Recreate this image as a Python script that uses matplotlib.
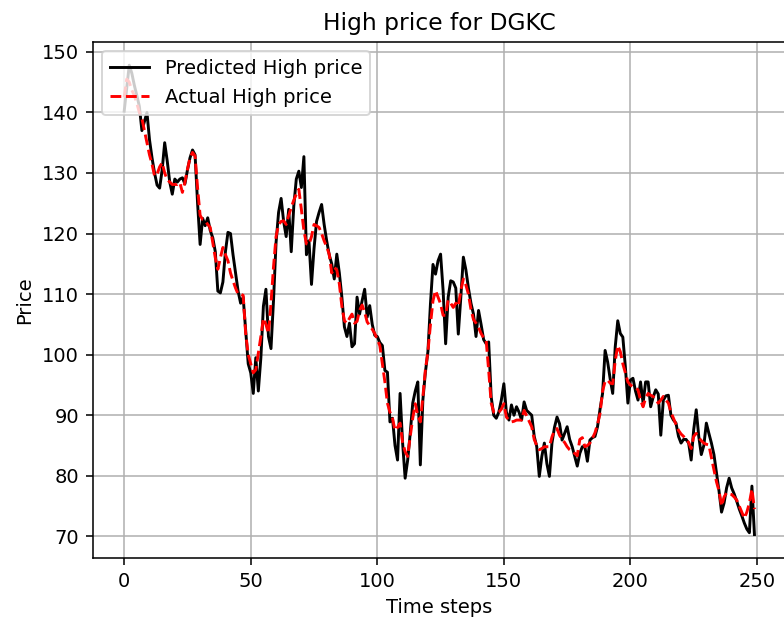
import numpy as np
import matplotlib
matplotlib.use('Agg')
import matplotlib.pyplot as plt

# values, one per time step (0..249)
predicted_high = [
    140.2, 144.0, 147.8, 146.5, 144.5, 142.8, 141.0, 137.0, 138.5, 140.0,
    135.5, 132.5, 130.0, 128.0, 127.5, 130.5, 135.0, 132.0, 128.5, 126.5,
    129.0, 128.5, 129.0, 129.2, 128.2, 130.5, 132.5, 133.8, 133.0, 125.0,
    118.2, 122.5, 121.3, 122.6, 120.5, 119.3, 117.0, 110.5, 110.2, 112.0,
    117.0, 120.2, 120.0, 116.5, 113.5, 110.5, 108.5, 109.5, 104.0, 98.5,
    97.0, 93.6, 99.5, 94.0, 99.5, 108.0, 110.8, 103.0, 101.0, 109.0,
    118.5, 123.5, 125.8, 122.0, 119.5, 124.0, 117.0, 124.5, 129.0, 130.3,
    127.6, 132.7, 116.5, 118.8, 111.6, 117.5, 122.0, 123.5, 124.8, 121.5,
    118.8, 116.5, 115.0, 112.5, 116.6, 113.5, 109.5, 104.6, 103.0, 105.2,
    101.3, 101.8, 109.5, 106.7, 108.9, 110.8, 106.2, 108.1, 105.0, 103.2,
    103.0, 102.0, 101.5, 97.4, 97.1, 88.9, 89.5, 85.0, 82.6, 93.6,
    85.4, 79.6, 82.6, 87.0, 92.0, 94.0, 95.5, 81.8, 92.5, 97.1,
    100.5, 108.4, 114.9, 113.3, 115.5, 116.6, 110.6, 101.8, 109.5, 112.2,
    112.0, 111.0, 103.4, 109.5, 116.1, 114.0, 111.0, 108.5, 106.7, 103.0,
    107.3, 105.0, 102.5, 101.8, 102.1, 93.0, 90.0, 89.5, 90.5, 92.5,
    95.2, 90.5, 89.2, 91.7, 90.0, 91.4, 90.5, 89.2, 92.2, 90.8,
    90.4, 90.0, 86.5, 84.8, 79.9, 83.2, 85.4, 82.0, 79.9, 85.4,
    88.0, 89.7, 88.6, 85.9, 87.0, 88.1, 86.0, 84.8, 83.2, 81.6,
    83.7, 84.8, 84.8, 82.4, 85.9, 86.3, 86.5, 88.1, 91.0, 93.6,
    100.7, 98.8, 96.0, 93.6, 101.3, 105.6, 103.5, 102.9, 98.0, 92.0,
    95.8, 96.1, 94.0, 92.5, 95.5, 92.0, 95.5, 95.5, 91.4, 93.0,
    94.2, 93.5, 86.7, 92.5, 93.2, 93.3, 90.0, 89.2, 88.7, 86.5,
    85.4, 86.0, 86.0, 85.4, 82.6, 87.6, 90.9, 86.5, 83.5, 85.0,
    88.7, 87.0, 85.4, 83.5, 80.5, 77.5, 74.0, 75.5, 78.0, 79.6,
    78.0, 77.0, 75.8, 74.5, 73.4, 72.2, 71.2, 70.6, 78.3, 70.3,
]

actual_high = [
    142.5, 145.5, 145.0, 143.7, 142.8, 141.5, 140.0, 139.0, 137.0, 135.0,
    133.0, 131.5, 129.5, 129.8, 131.0, 131.7, 130.0, 128.9, 128.5, 128.1,
    128.1, 128.1, 128.4, 126.8, 128.5, 130.6, 132.5, 133.4, 132.8, 127.5,
    123.0, 122.3, 122.1, 121.5, 121.0, 118.5, 116.0, 114.1, 116.0, 117.7,
    116.5, 115.5, 113.5, 112.2, 111.0, 110.0, 110.0, 109.8, 103.5, 100.0,
    98.5, 97.0, 97.5, 100.2, 103.0, 106.0, 105.0, 103.5, 108.5, 114.5,
    119.5, 121.5, 122.0, 122.1, 121.5, 123.0, 124.3, 125.5, 126.5, 127.3,
    124.0, 120.5, 118.3, 118.2, 119.5, 121.5, 121.3, 121.0, 120.0, 118.8,
    117.8, 116.6, 113.5, 114.4, 114.0, 111.7, 108.0, 105.6, 105.2, 106.0,
    106.7, 105.2, 105.5, 107.3, 108.2, 107.0, 105.4, 104.8, 104.2, 103.5,
    102.5, 101.5, 98.5, 95.5, 92.0, 90.5, 89.5, 87.5, 88.0, 88.7,
    85.5, 84.0, 83.2, 86.5, 89.5, 91.9, 90.0, 88.9, 93.0, 97.5,
    100.5, 105.0, 108.9, 110.6, 109.5, 108.4, 106.5, 106.5, 109.0, 108.5,
    107.8, 108.5, 108.0, 110.6, 112.5, 111.5, 110.0, 107.5, 105.8, 105.2,
    104.5, 103.5, 102.8, 102.4, 97.4, 92.0, 90.5, 90.3, 90.5, 91.0,
    91.9, 89.7, 89.2, 88.9, 89.0, 89.2, 89.2, 89.2, 90.8, 89.9,
    89.0, 88.1, 86.0, 85.0, 84.3, 84.5, 84.8, 84.8, 84.8, 86.4,
    87.5, 87.8, 86.7, 86.0, 85.5, 84.8, 84.3, 84.0, 83.7, 83.3,
    86.0, 86.3, 84.8, 85.0, 85.4, 86.2, 87.1, 88.5, 90.3, 94.0,
    95.6, 95.8, 95.3, 95.2, 99.0, 101.5, 100.5, 98.5, 97.0, 95.5,
    95.0, 94.7, 94.5, 94.2, 92.5, 91.4, 92.8, 93.6, 93.3, 93.1,
    92.5, 92.0, 92.5, 93.1, 92.5, 92.0, 90.5, 89.5, 88.5, 87.5,
    86.9, 86.5, 86.0, 85.5, 84.5, 86.5, 87.0, 86.3, 85.8, 85.4,
    85.2, 85.1, 83.0, 81.0, 79.0, 77.5, 75.0, 76.5, 77.2, 77.0,
    76.9, 76.5, 76.0, 75.0, 74.0, 73.0, 74.0, 75.5, 77.8, 74.5,
]

title = 'High price for DGKC'
x_label = 'Time steps'
y_label = 'Price'


def plot_prices():
    # the reference looks like a default figure saved at a higher dpi
    fig = plt.figure(figsize=(5.6, 4.4286), dpi=140)
    # it is cropped on the right, so the axes run a bit past the edge
    ax = fig.add_axes([0.1182, 0.1, 0.8843, 0.8327])
    ax.plot(predicted_high, color='black', label='Predicted High price')
    ax.plot(actual_high, 'r--', label='Actual High price')
    ax.set_title(title)
    ax.set_xlabel(x_label)
    ax.set_ylabel(y_label)
    ax.set_yticks(np.arange(70, 151, 10))
    ax.legend(loc='upper left')
    ax.grid(True)
    fig.savefig('out.png', dpi=140)


if __name__ == '__main__':
    plot_prices()
